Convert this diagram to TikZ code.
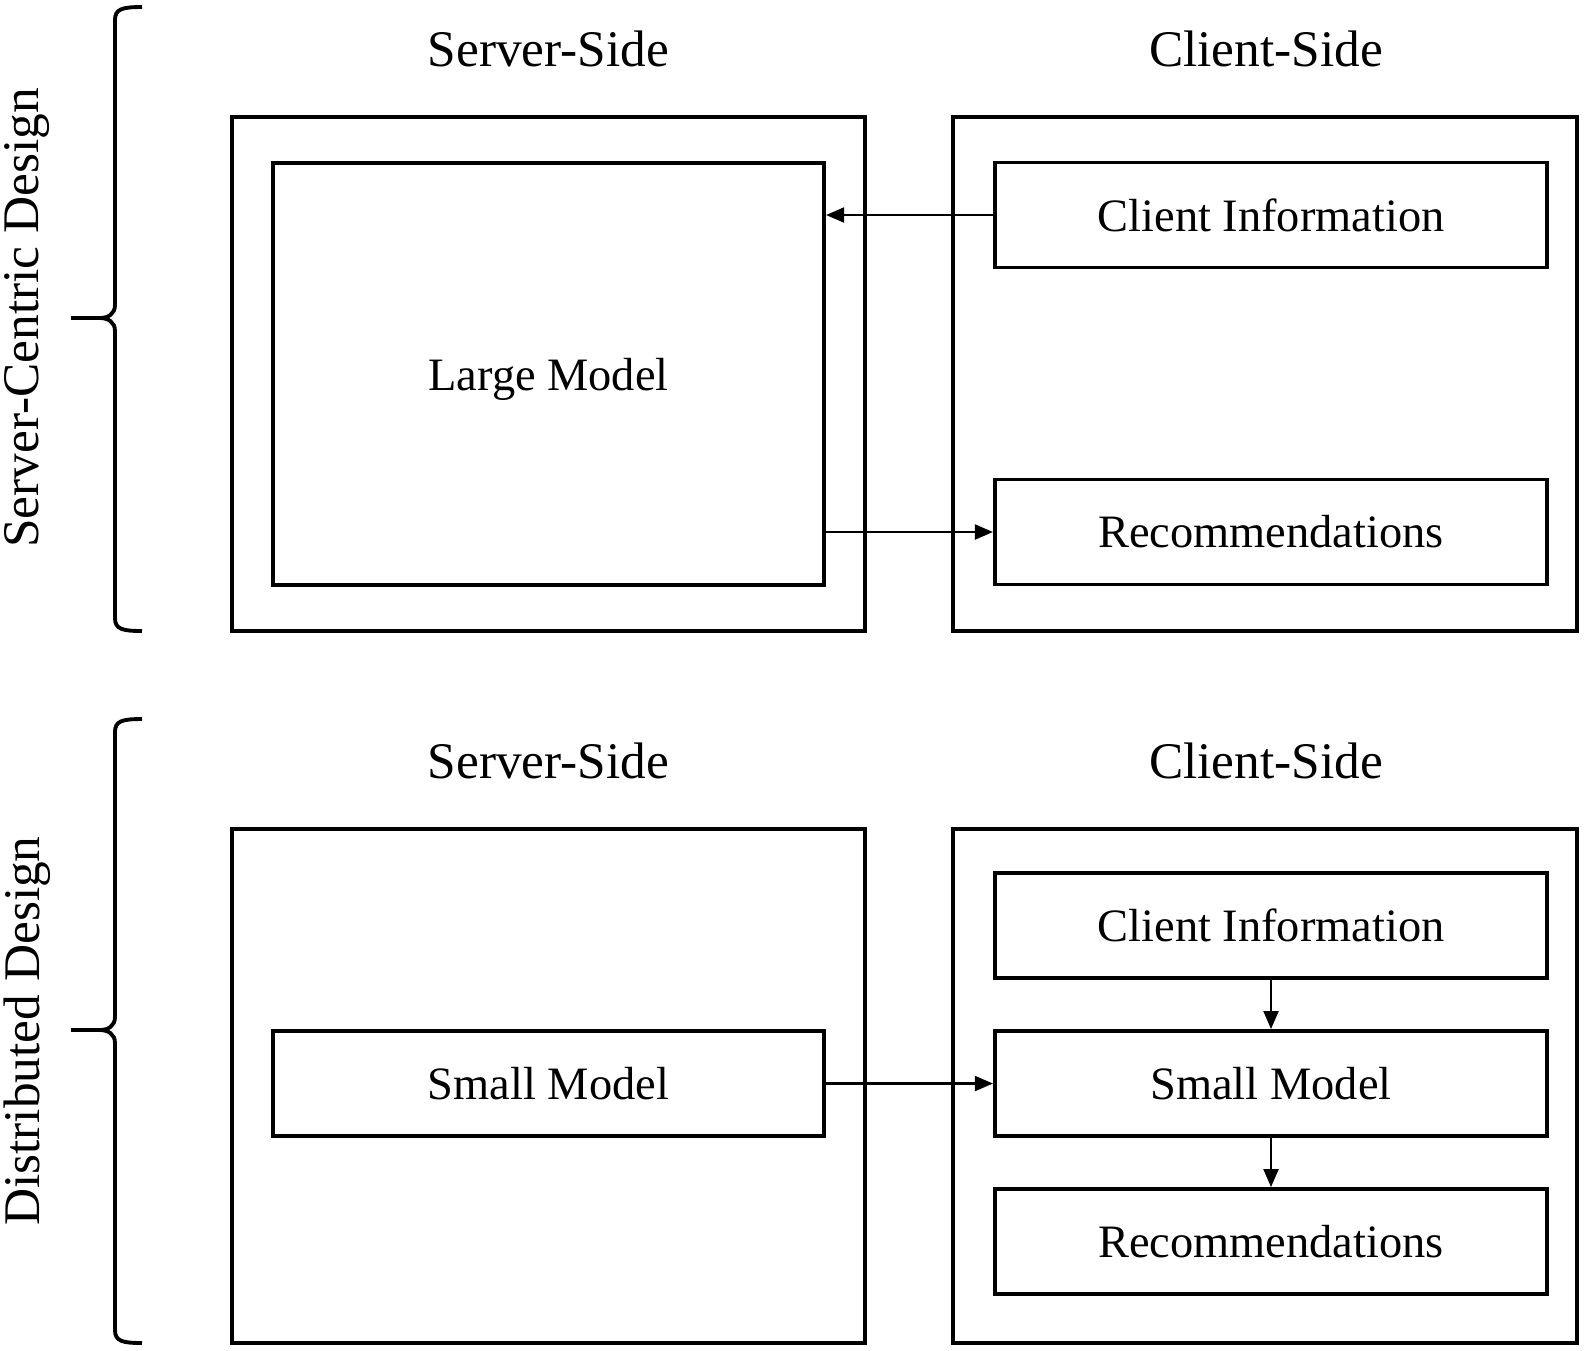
\documentclass[tikz,border=0pt]{standalone}
\usepackage{fontspec}
\setmainfont{Liberation Serif}
\usetikzlibrary{arrows.meta}
\begin{document}
\begin{tikzpicture}[
  x=0.01cm, y=-0.01cm,
  outerbox/.style={draw, line width=1.1pt, minimum width=6.33cm, minimum height=5.14cm, inner sep=0pt},
  clientbox/.style={draw, line width=1.1pt, minimum width=6.24cm, minimum height=5.14cm, inner sep=0pt},
  modulebox/.style={draw, line width=1.1pt, minimum width=5.52cm, minimum height=1.05cm, inner sep=0pt, font=\fontsize{13.2}{15}\selectfont},
  sidetitle/.style={font=\fontsize{14.6}{17}\selectfont, inner sep=0pt},
  designlabel/.style={font=\fontsize{14.6}{17}\selectfont, rotate=90, inner sep=0pt},
  brace/.style={line width=1.1pt},
  arr/.style={-{Triangle[length=1.8mm, width=1.5mm]}, line width=0.6pt}
]
  \useasboundingbox (0,0) rectangle (1594,1350);

  % === PARTE SUPERIORE: Server-Centric Design ===
  \node[designlabel] (lblA) at (27,318) {Server-Centric Design};
  \draw[brace] (142,7) .. controls (122,7) and (115,9) .. (115,20) -- (115,305)
    .. controls (115,314) and (108,318) .. (100,318) -- (71,318)
    (100,318) .. controls (108,318) and (115,322) .. (115,331) -- (115,618)
    .. controls (115,629) and (122,631) .. (142,631);

  \node[sidetitle] (tsA) at (548.5,49) {Server-Side};
  \node[sidetitle] (tcA) at (1266,49) {Client-Side};

  \node[outerbox] (srvA) at (548.5,374) {};
  \node[draw, line width=1.1pt, minimum width=5.51cm, minimum height=4.22cm, text height=0.42cm, font=\fontsize{13.2}{15}\selectfont] (lmA) at (548.5,374) {Large Model};

  \node[clientbox] (cliA) at (1265,374) {};
  \node[modulebox] (ciA) at (1271,215) {Client Information};
  \node[modulebox] (recA) at (1271,532) {Recommendations};

  \draw[arr] (ciA.west) -- (ciA.west -| lmA.east);
  \draw[arr] (lmA.east |- recA.west) -- (recA.west);

  % === PARTE INFERIORE: Distributed Design ===
  \node[designlabel] (lblB) at (27,1031) {Distributed Design};
  \draw[brace] (142,719) .. controls (122,719) and (115,721) .. (115,732) -- (115,1017)
    .. controls (115,1026) and (108,1030) .. (100,1030) -- (71,1030)
    (100,1030) .. controls (108,1030) and (115,1034) .. (115,1043) -- (115,1330)
    .. controls (115,1341) and (122,1343) .. (142,1343);

  \node[sidetitle] (tsB) at (548.5,761) {Server-Side};
  \node[sidetitle] (tcB) at (1266,761) {Client-Side};

  \node[outerbox] (srvB) at (548.5,1086) {};
  \node[modulebox, minimum width=5.51cm] (smS) at (548.5,1083.5) {Small Model};

  \node[clientbox] (cliB) at (1265,1086) {};
  \node[modulebox] (ciB) at (1271,925.5) {Client Information};
  \node[modulebox] (smC) at (1271,1083.5) {Small Model};
  \node[modulebox] (recB) at (1271,1241.5) {Recommendations};

  \draw[arr] (smS.east) -- (smC.west);
  \draw[arr] (ciB.south) -- (smC.north);
  \draw[arr] (smC.south) -- (recB.north);
\end{tikzpicture}
\end{document}
